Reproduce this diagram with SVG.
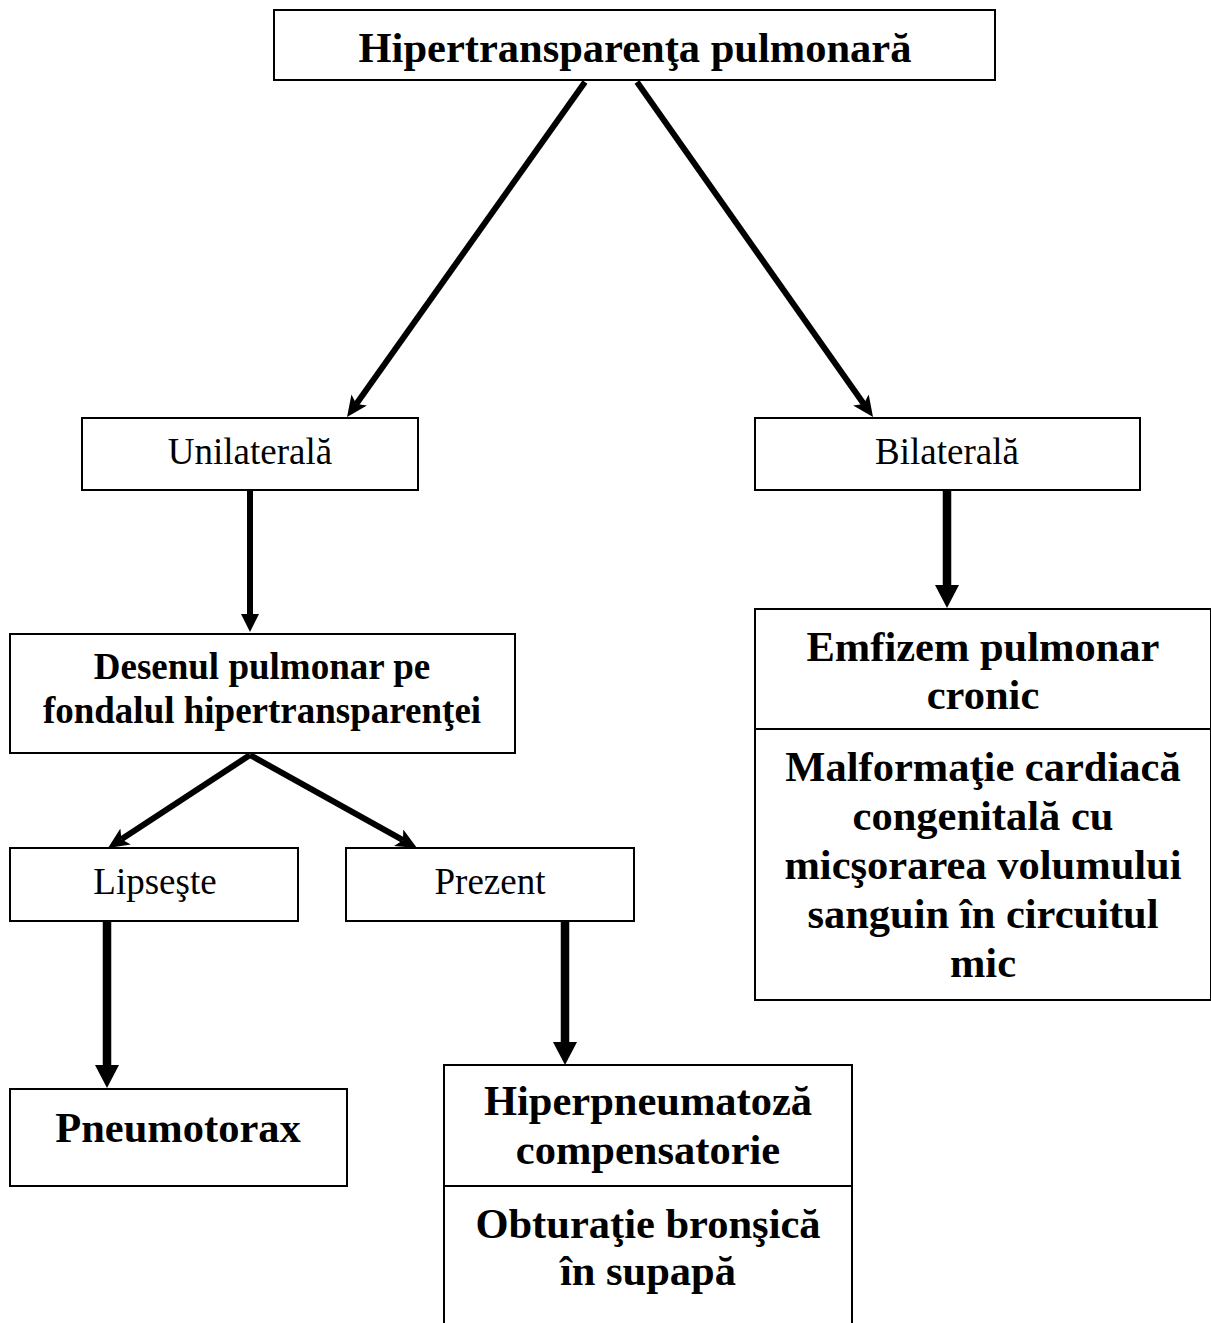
<svg xmlns="http://www.w3.org/2000/svg" width="1211" height="1323" viewBox="0 0 1211 1323">
<style>
.box{fill:#fff;stroke:#000;stroke-width:2}
.div{stroke:#000;stroke-width:2}
.t{font-family:"Liberation Serif","Times New Roman",serif;text-anchor:middle;fill:#000}
.r{font-size:37px}
.b{font-size:37px;font-weight:bold}
.B{font-size:42.5px;font-weight:bold}
.thin{stroke:#000;stroke-width:6;fill:none;marker-end:url(#ah)}
.mid{stroke:#000;stroke-width:6;fill:none;marker-end:url(#ahv)}
.thick{stroke:#000;stroke-width:8.5;fill:none;marker-end:url(#ahb)}
</style>
<defs>
<marker id="ah" markerUnits="userSpaceOnUse" viewBox="0 0 21 19" markerWidth="21" markerHeight="19" refX="5" refY="9.5" orient="auto"><path d="M0,0 L21,9.5 L0,19 L5,9.5 z" fill="#000"/></marker>
<marker id="ahv" markerUnits="userSpaceOnUse" viewBox="0 0 18 18" markerWidth="18" markerHeight="18" refX="0" refY="9" orient="auto"><path d="M0,0 L18,9 L0,18 z" fill="#000"/></marker>
<marker id="ahb" markerUnits="userSpaceOnUse" viewBox="0 0 23 24" markerWidth="23" markerHeight="24" refX="0" refY="12" orient="auto"><path d="M0,0 L23,12 L0,24 z" fill="#000"/></marker>
</defs>
<rect width="1211" height="1323" fill="#fff"/>
<g id="connectors">
<path class="thin" d="M585,82 L356.3,404"/>
<path class="thin" d="M637,82 L863.8,404"/>
<path class="mid" d="M250,490 L250,614"/>
<path class="thin" d="M250,755 L121.4,839.2"/>
<path class="thin" d="M250,755 L403,840.2"/>
<path class="thick" d="M947,490 L947,585"/>
<path class="thick" d="M107,921 L107,1065"/>
<path class="thick" d="M565,921 L565,1042"/>
</g>
<g id="n-title">
<rect class="box" x="274" y="10" width="721" height="70"/>
<text class="t B" x="635" y="62">Hipertransparenţa pulmonară</text>
</g>
<g id="n-unilaterala">
<rect class="box" x="82" y="418" width="336" height="72"/>
<text class="t r" x="250" y="464">Unilaterală</text>
</g>
<g id="n-bilaterala">
<rect class="box" x="755" y="418" width="385" height="72"/>
<text class="t r" x="947" y="464">Bilaterală</text>
</g>
<g id="n-desenul">
<rect class="box" x="10" y="634" width="505" height="119"/>
<text class="t b" x="262" y="679">Desenul pulmonar pe</text>
<text class="t b" x="262" y="723">fondalul hipertransparenţei</text>
</g>
<g id="n-lipseste">
<rect class="box" x="10" y="848" width="288" height="73"/>
<text class="t r" x="155" y="894">Lipseşte</text>
</g>
<g id="n-prezent">
<rect class="box" x="346" y="848" width="288" height="73"/>
<text class="t r" x="490" y="894">Prezent</text>
</g>
<g id="n-emfizem">
<rect class="box" x="755" y="609" width="456" height="391"/>
<line class="div" x1="755" y1="729" x2="1211" y2="729"/>
<text class="t B" x="983" y="661">Emfizem pulmonar</text>
<text class="t B" x="983" y="709">cronic</text>
<text class="t B" x="983" y="781">Malformaţie cardiacă</text>
<text class="t B" x="983" y="830">congenitală cu</text>
<text class="t B" x="983" y="879">micşorarea volumului</text>
<text class="t B" x="983" y="928">sanguin în circuitul</text>
<text class="t B" x="983" y="977">mic</text>
</g>
<g id="n-pneumotorax">
<rect class="box" x="10" y="1089" width="337" height="97"/>
<text class="t B" x="178" y="1142">Pneumotorax</text>
</g>
<g id="n-hiperpneumatoza">
<rect class="box" x="444" y="1065" width="408" height="270"/>
<line class="div" x1="444" y1="1186" x2="852" y2="1186"/>
<text class="t B" x="648" y="1115">Hiperpneumatoză</text>
<text class="t B" x="648" y="1164">compensatorie</text>
<text class="t B" x="648" y="1238">Obturaţie bronşică</text>
<text class="t B" x="648" y="1285">în supapă</text>
</g>
</svg>
